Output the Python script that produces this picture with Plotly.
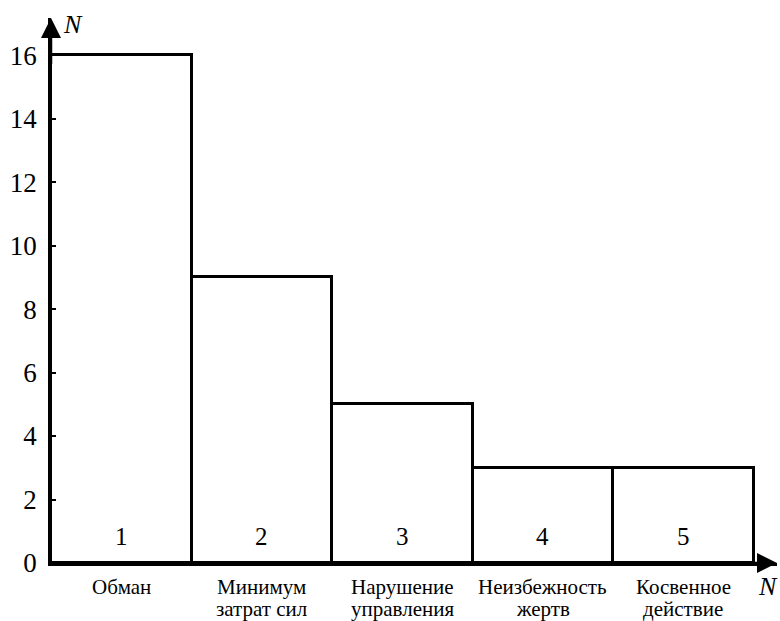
import plotly.graph_objects as go

# Data
line1 = ["Обман", "Минимум", "Нарушение", "Неизбежность", "Косвенное"]
line2 = ["", "затрат сил", "управления", "жертв", "действие"]
values = [16, 9, 5, 3, 3]
numbers = ["1", "2", "3", "4", "5"]
y_ticks = [0, 2, 4, 6, 8, 10, 12, 14, 16]

FONT = "Liberation Serif"
xs = list(range(len(values)))

fig = go.Figure()
fig.add_trace(go.Bar(
    x=xs, y=values, width=1,
    marker=dict(color="white", line=dict(color="black", width=3)),
    hoverinfo="skip", cliponaxis=False,
))

ann = []
for i, n in enumerate(numbers):
    ann.append(dict(x=xs[i], y=0.85, xref="x", yref="y", text=n, showarrow=False,
                    font=dict(family=FONT, size=25, color="black")))
    ann.append(dict(x=xs[i], y=0, xref="x", yref="y", text=line1[i], showarrow=False,
                    yshift=-24, font=dict(family=FONT, size=21, color="black")))
    if line2[i]:
        ann.append(dict(x=xs[i], y=0, xref="x", yref="y", text=line2[i], showarrow=False,
                        yshift=-46, font=dict(family=FONT, size=21, color="black")))

xmax = len(values) - 0.5 + 0.167
ymax = 17.17
# axis arrows
ann.append(dict(x=xmax, y=0, ax=xmax - 0.3, ay=0, xref="x", yref="y", axref="x", ayref="y",
                showarrow=True, arrowhead=2, arrowsize=1.6, arrowwidth=2.5, arrowcolor="black", text=""))
ann.append(dict(x=-0.5, y=ymax, ax=-0.5, ay=ymax - 1.5, xref="x", yref="y", axref="x", ayref="y",
                showarrow=True, arrowhead=2, arrowsize=1.6, arrowwidth=2.5, arrowcolor="black", text=""))
# axis letters
ann.append(dict(x=-0.5, y=ymax, xref="x", yref="y", text="<i>N</i>", showarrow=False,
                xanchor="left", yanchor="middle", xshift=10, yshift=-6,
                font=dict(family=FONT, size=26, color="black")))
ann.append(dict(x=xmax, y=0, xref="x", yref="y", text="<i>N</i>", showarrow=False,
                xanchor="center", yanchor="middle", xshift=-9, yshift=-23,
                font=dict(family=FONT, size=26, color="black")))

fig.update_layout(
    width=780, height=621,
    font=dict(family=FONT, color="black"),
    margin=dict(l=51, r=3, t=18, b=58, autoexpand=False),
    paper_bgcolor="white", plot_bgcolor="white",
    showlegend=False, bargap=0,
    annotations=ann,
    xaxis=dict(range=[-0.5, xmax], showticklabels=False, ticks="", showgrid=False,
               zeroline=False, showline=True, linecolor="black", linewidth=2.5,
               automargin=False),
    yaxis=dict(range=[0, ymax], tickvals=y_ticks, ticks="inside", ticklen=5, tickwidth=1.5,
               tickcolor="black", showgrid=False, zeroline=False, showline=True,
               linecolor="black", linewidth=2.5, ticklabelstandoff=6, automargin=False,
               tickfont=dict(family=FONT, size=27, color="black")),
)

fig.write_html("out.html", post_script="document.body.style.margin='0';",
               config={"displayModeBar": False})
